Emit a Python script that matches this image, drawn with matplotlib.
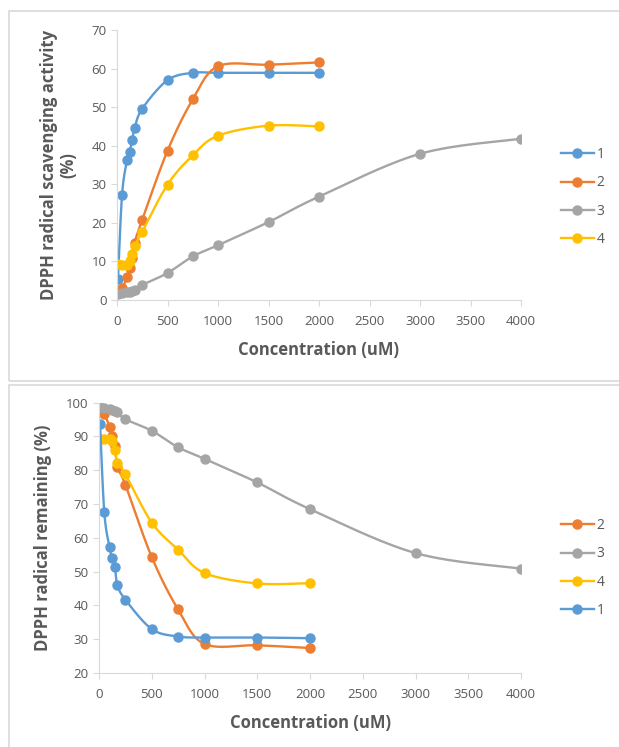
import numpy as np
import matplotlib.pyplot as plt
from matplotlib.patches import Rectangle

plt.rcParams['font.family'] = ['Open Sans', 'DejaVu Sans']

conc = [10, 50, 100, 125, 150, 175, 250, 500, 750, 1000, 1500, 2000]
conc3 = conc + [3000, 4000]

scav1 = [5.5, 27.3, 36.3, 38.5, 41.4, 44.6, 49.6, 57.0, 58.9, 58.9, 58.9, 58.9]
scav2 = [2.4, 3.0, 6.0, 8.3, 11.0, 14.9, 20.8, 38.7, 52.0, 60.6, 61.0, 61.6]
scav3 = [1.5, 1.8, 2.0, 2.1, 2.3, 2.6, 3.9, 7.0, 11.3, 14.2, 20.2, 26.8, 37.9, 41.8]
scav4 = [9.3, 9.1, 9.2, 10.0, 11.8, 14.0, 17.7, 29.9, 37.5, 42.6, 45.2, 45.0]

rem1 = [93.7, 67.6, 57.2, 54.1, 51.3, 46.0, 41.7, 33.0, 30.8, 30.5, 30.5, 30.3]
rem2 = [97.3, 96.6, 92.9, 90.1, 87.2, 80.9, 75.7, 54.3, 38.8, 28.6, 28.2, 27.4]
rem3 = [98.6, 98.3, 98.0, 97.8, 97.5, 97.1, 95.1, 91.7, 86.8, 83.4, 76.4, 68.5, 55.5, 50.9]
rem4 = [89.2, 89.2, 89.2, 88.6, 86.0, 82.2, 78.8, 64.5, 56.5, 49.6, 46.5, 46.6]

colors = {'1': '#5B9BD5', '2': '#ED7D31', '3': '#A5A5A5', '4': '#FFC000'}
txt = '#595959'


def smooth(x, y, n=30):
    # excel-like smoothed line (bezier through points, catmull-rom tangents)
    x = np.asarray(x, float)
    y = np.asarray(y, float)
    px = [x[0]]
    py = [y[0]]
    for i in range(len(x) - 1):
        i0 = max(i - 1, 0)
        i3 = min(i + 2, len(x) - 1)
        dx = x[i + 1] - x[i]
        t1 = np.array([x[i + 1] - x[i0], y[i + 1] - y[i0]]) / 6
        t2 = np.array([x[i3] - x[i], y[i3] - y[i]]) / 6
        if t1[0] > dx:
            t1 = t1 * dx / t1[0]
        if t2[0] > dx:
            t2 = t2 * dx / t2[0]
        p0 = np.array([x[i], y[i]])
        p3 = np.array([x[i + 1], y[i + 1]])
        p1 = p0 + t1
        p2 = p3 - t2
        t = np.linspace(0, 1, n)[1:, None]
        b = (1 - t) ** 3 * p0 + 3 * (1 - t) ** 2 * t * p1 + 3 * (1 - t) * t ** 2 * p2 + t ** 3 * p3
        px.extend(b[:, 0])
        py.extend(b[:, 1])
    return px, py


def series(ax, x, y, name):
    sx, sy = smooth(x, y)
    ax.plot(sx, sy, color=colors[name], lw=1.7, solid_capstyle='round')
    ax.plot(x, y, 'o', color=colors[name], ms=6.5)
    ax.plot([], [], '-o', color=colors[name], lw=1.7, ms=6.5, label=name)


def style(ax):
    for s in ['top', 'right']:
        ax.spines[s].set_visible(False)
    for s in ['left', 'bottom']:
        ax.spines[s].set_color('#D9D9D9')
        ax.spines[s].set_linewidth(0.8)
    ax.tick_params(colors='#D9D9D9', labelcolor=txt, labelsize=9.5, length=4, width=0.8)
    ax.tick_params(axis='x', pad=7)
    ax.set_xlabel('Concentration (uM)', fontsize=12, fontweight='bold', color=txt, labelpad=9)


fig = plt.figure(figsize=(6.19, 7.47), dpi=100)
fig.patches.append(Rectangle((9 / 619, 1 - 381 / 747), 1, 370 / 747, transform=fig.transFigure,
                             fill=False, edgecolor='#D9D9D9', lw=1.2))
fig.patches.append(Rectangle((9 / 619, -0.1), 1, 1 - 385 / 747 + 0.1, transform=fig.transFigure,
                             fill=False, edgecolor='#D9D9D9', lw=1.2))

ax1 = fig.add_axes([117 / 619, 1 - 300 / 747, 404 / 619, 270 / 747])
series(ax1, conc, scav1, '1')
series(ax1, conc, scav2, '2')
series(ax1, conc3, scav3, '3')
series(ax1, conc, scav4, '4')
ax1.set_xlim(0, 4000)
ax1.set_ylim(0, 70)
ax1.set_xticks(np.arange(0, 4001, 500))
ax1.set_yticks(np.arange(0, 71, 10))
style(ax1)
ax1.set_ylabel('DPPH radical scavenging activity\n(%)', fontsize=12, fontweight='bold', color=txt,
               labelpad=10, linespacing=1.1)
ax1.legend(loc='center left', bbox_to_anchor=(555 / 619, 1 - 197 / 747), bbox_transform=fig.transFigure,
           frameon=False, fontsize=10, labelcolor=txt, handlelength=2.4, handletextpad=0.2,
           labelspacing=0.95, borderaxespad=0)

ax2 = fig.add_axes([99 / 619, 1 - 673 / 747, 422 / 619, 270.3 / 747])
series(ax2, conc, rem2, '2')
series(ax2, conc3, rem3, '3')
series(ax2, conc, rem4, '4')
series(ax2, conc, rem1, '1')
ax2.set_xlim(0, 4000)
ax2.set_ylim(20, 100)
ax2.set_xticks(np.arange(0, 4001, 500))
ax2.set_yticks(np.arange(20, 101, 10))
style(ax2)
ax2.set_ylabel('DPPH radical remaining (%)', fontsize=12, fontweight='bold', color=txt, labelpad=10)
ax2.legend(loc='center left', bbox_to_anchor=(555 / 619, 1 - 568 / 747), bbox_transform=fig.transFigure,
           frameon=False, fontsize=10, labelcolor=txt, handlelength=2.4, handletextpad=0.2,
           labelspacing=0.95, borderaxespad=0)

fig.savefig('out.png', dpi=100)
